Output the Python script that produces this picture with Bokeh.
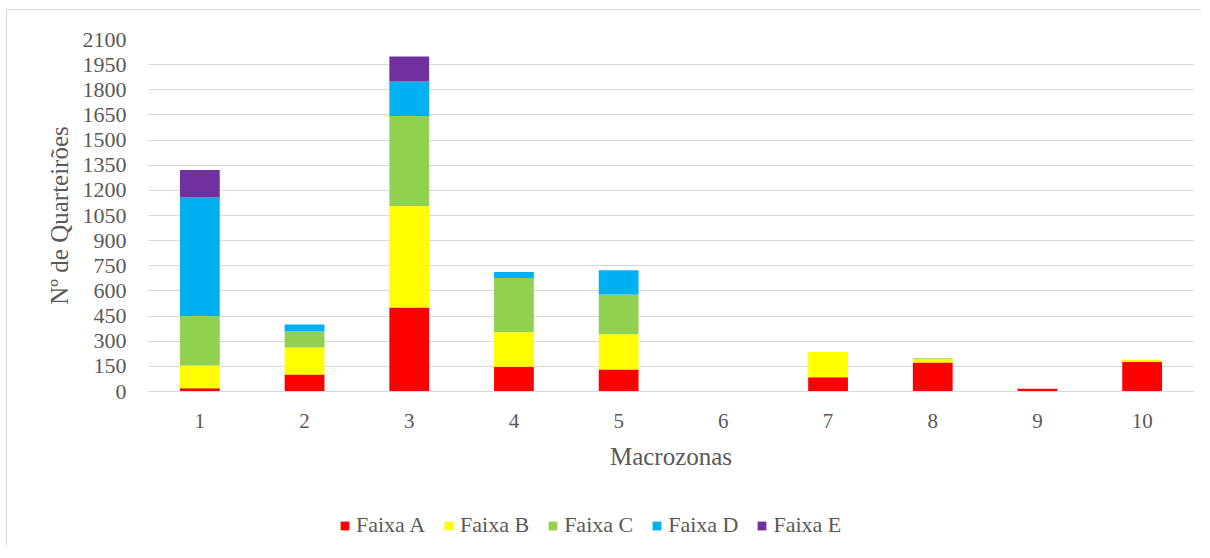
from bokeh.plotting import figure
from bokeh.models import Range1d, FixedTicker, Legend
from bokeh.layouts import column
from bokeh.embed import file_html
from bokeh.resources import INLINE

macrozonas = ["1", "2", "3", "4", "5", "6", "7", "8", "9", "10"]
faixa_a = [20, 101, 501, 147, 131, 0, 85, 173, 16, 177]
faixa_b = [135, 161, 606, 207, 211, 0, 151, 19, 0, 12]
faixa_c = [295, 96, 536, 323, 236, 0, 0, 6, 0, 0]
faixa_d = [708, 42, 207, 36, 145, 0, 0, 0, 0, 0]
faixa_e = [163, 0, 149, 0, 0, 0, 0, 0, 0, 0]
series = ["Faixa A", "Faixa B", "Faixa C", "Faixa D", "Faixa E"]
colors = ["#FF0000", "#FFFF00", "#92D050", "#00B0F0", "#7030A0"]
y_ticks = [0, 150, 300, 450, 600, 750, 900, 1050, 1200, 1350, 1500, 1650, 1800, 1950, 2100]

FONT = "Liberation Serif"
TXT = "#595959"
GRID = "#d9d9d9"

data = {"x": macrozonas, "Faixa A": faixa_a, "Faixa B": faixa_b,
        "Faixa C": faixa_c, "Faixa D": faixa_d, "Faixa E": faixa_e}

p = figure(x_range=macrozonas, y_range=Range1d(0, 2100),
           frame_width=1047, frame_height=352,
           output_backend="svg", toolbar_location=None,
           min_border_left=140, min_border_right=7, min_border_top=29, min_border_bottom=85)

rs = p.vbar_stack(series, x="x", width=0.38, color=colors, line_color=None, source=data)

p.outline_line_color = None
p.xgrid.grid_line_color = None
p.ygrid.grid_line_color = GRID
p.ygrid.grid_line_width = 1
p.yaxis.ticker = FixedTicker(ticks=y_ticks)

for ax in (p.xaxis[0], p.yaxis[0]):
    ax.major_tick_line_color = None
    ax.minor_tick_line_color = None
    ax.major_label_text_font = FONT
    ax.major_label_text_color = TXT
    ax.major_label_text_font_size = "21px"
    ax.axis_label_text_font = FONT
    ax.axis_label_text_color = TXT
    ax.axis_label_text_font_size = "25px"
    ax.axis_label_text_font_style = "normal"

p.yaxis.major_label_text_font_size = "22px"
p.xaxis.axis_line_color = GRID
p.yaxis.axis_line_color = None
p.yaxis.major_label_standoff = 15
p.xaxis.major_label_standoff = 16
p.xaxis.axis_label = "Macrozonas"
p.yaxis.axis_label = "Nº de Quarteirões"
p.xaxis.axis_label_standoff = 12
p.yaxis.axis_label_standoff = 7

# legend strip below the chart (same stacked series, viewed out of range so only the legend shows)
lp = figure(width=1194, height=70, x_range=macrozonas, y_range=Range1d(5000, 6000),
            output_backend="svg", toolbar_location=None,
            x_axis_type=None, y_axis_type=None,
            min_border_left=0, min_border_right=0, min_border_top=0, min_border_bottom=0)
lp.outline_line_color = None
lp.xgrid.grid_line_color = None
lp.ygrid.grid_line_color = None
lrs = lp.vbar_stack(series, x="x", width=0.38, color=colors, line_color=None, source=data)

legend = Legend(items=[(s, [r]) for s, r in zip(series, lrs)], orientation="horizontal",
                location=(192, 8))
legend.label_text_font = FONT
legend.label_text_color = TXT
legend.label_text_font_size = "22px"
legend.glyph_width = 11
legend.glyph_height = 11
legend.label_standoff = 6
legend.spacing = 18
legend.border_line_color = None
legend.background_fill_alpha = 0
legend.padding = 0
legend.margin = 0
lp.add_layout(legend, "center")

layout = column(p, lp, spacing=0)
layout.styles = {"border-left": "1px solid #d9d9d9", "border-top": "1px solid #d9d9d9",
                 "margin-left": "6px", "margin-top": "9px"}

open("out.html", "w").write(file_html(layout, INLINE))
